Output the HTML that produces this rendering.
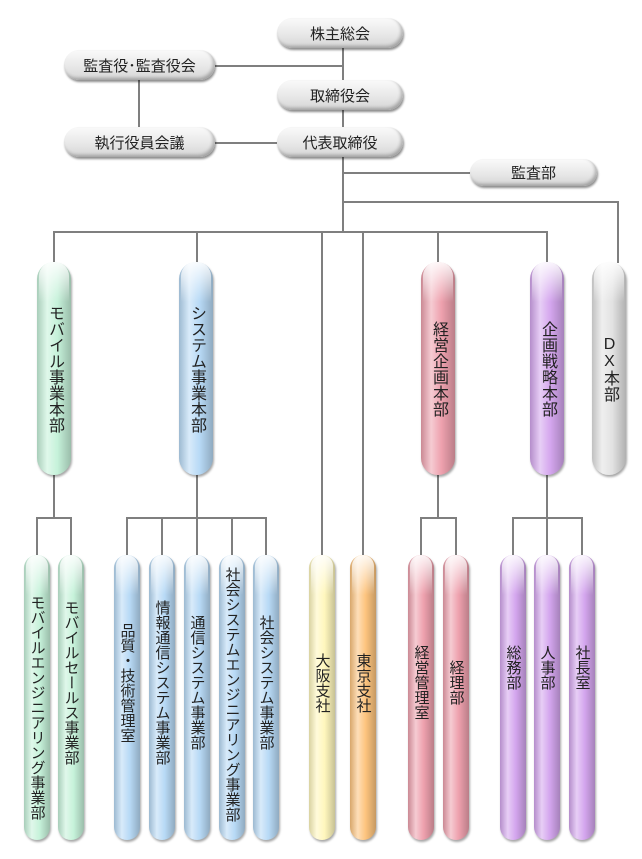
<!DOCTYPE html>
<html><head><meta charset="utf-8"><style>
body{margin:0;width:642px;height:859px;background:#fff;position:relative;overflow:hidden;font-family:"Liberation Sans","Noto Sans CJK JP",sans-serif;color:#222}
.l{position:absolute;background:#7f7f7f}
.b{position:absolute;height:30px;border-radius:15px;background:linear-gradient(#fafafa,#e6e6e6 60%,#d4d4d4);box-shadow:1px 2px 2px rgba(0,0,0,.45), inset -2px -2px 3px rgba(0,0,0,.25);display:flex;align-items:center;justify-content:center;font-size:15px}
.p{position:absolute;border-radius:14px;display:flex;justify-content:center;align-items:center;writing-mode:vertical-rl;text-orientation:upright;font-size:15px;line-height:1;box-shadow:1px 2px 2px rgba(0,0,0,.35)}
.p::before{content:"";position:absolute;left:0;top:0;right:0;bottom:0;border-radius:inherit;background:linear-gradient(90deg,rgba(0,0,0,.15),rgba(255,255,255,.45) 30%,rgba(255,255,255,0) 60%,rgba(0,0,0,.22));}
.p::after{content:"";position:absolute;left:2px;right:2px;top:0;height:40px;border-radius:14px 14px 0 0;background:linear-gradient(rgba(255,255,255,.9),rgba(255,255,255,0))}
.p span{position:relative;z-index:1}
.t{top:262px;height:213px;width:34px;border-radius:17px;font-size:16px}
.s{top:555px;height:285px;width:26px;padding-bottom:30px;box-sizing:border-box}
.g{background:#c6f2da}.bl{background:#b8daf6}.y{background:#fff7bd}.o{background:#fdc47e}.pk{background:#eea1ae}.pu{background:#d4a6ee}.gr{background:#e2e2e2}
</style></head><body>
<div class="l" style="left:342px;top:48px;width:2px;height:80px"></div>
<div class="l" style="left:215px;top:65px;width:128px;height:2px"></div>
<div class="l" style="left:138px;top:80px;width:2px;height:48px"></div>
<div class="l" style="left:215px;top:142px;width:62px;height:2px"></div>
<div class="l" style="left:342px;top:157px;width:2px;height:76px"></div>
<div class="l" style="left:343px;top:172px;width:127px;height:2px"></div>
<div class="l" style="left:343px;top:201px;width:275px;height:2px"></div>
<div class="l" style="left:617px;top:201px;width:2px;height:62px"></div>
<div class="l" style="left:53px;top:231px;width:495px;height:2px"></div>
<div class="l" style="left:53px;top:231px;width:2px;height:32px"></div>
<div class="l" style="left:196px;top:231px;width:2px;height:32px"></div>
<div class="l" style="left:321px;top:231px;width:2px;height:325px"></div>
<div class="l" style="left:362px;top:231px;width:2px;height:325px"></div>
<div class="l" style="left:437px;top:231px;width:2px;height:32px"></div>
<div class="l" style="left:546px;top:231px;width:2px;height:32px"></div>
<div class="l" style="left:53px;top:475px;width:2px;height:43px"></div>
<div class="l" style="left:36px;top:517px;width:36px;height:2px"></div>
<div class="l" style="left:36px;top:517px;width:2px;height:39px"></div>
<div class="l" style="left:70px;top:517px;width:2px;height:39px"></div>
<div class="l" style="left:196px;top:475px;width:2px;height:43px"></div>
<div class="l" style="left:126px;top:517px;width:141px;height:2px"></div>
<div class="l" style="left:126px;top:517px;width:2px;height:39px"></div>
<div class="l" style="left:161px;top:517px;width:2px;height:39px"></div>
<div class="l" style="left:196px;top:517px;width:2px;height:39px"></div>
<div class="l" style="left:231px;top:517px;width:2px;height:39px"></div>
<div class="l" style="left:265px;top:517px;width:2px;height:39px"></div>
<div class="l" style="left:437px;top:475px;width:2px;height:43px"></div>
<div class="l" style="left:420px;top:517px;width:37px;height:2px"></div>
<div class="l" style="left:420px;top:517px;width:2px;height:39px"></div>
<div class="l" style="left:455px;top:517px;width:2px;height:39px"></div>
<div class="l" style="left:546px;top:475px;width:2px;height:43px"></div>
<div class="l" style="left:512px;top:517px;width:71px;height:2px"></div>
<div class="l" style="left:512px;top:517px;width:2px;height:39px"></div>
<div class="l" style="left:546px;top:517px;width:2px;height:39px"></div>
<div class="l" style="left:581px;top:517px;width:2px;height:39px"></div>
<div class="b" style="left:277px;top:18px;width:126px">株主総会</div>
<div class="b" style="left:64px;top:50px;width:151px">監査役･監査役会</div>
<div class="b" style="left:277px;top:80px;width:126px">取締役会</div>
<div class="b" style="left:64px;top:127px;width:151px">執行役員会議</div>
<div class="b" style="left:277px;top:127px;width:126px">代表取締役</div>
<div class="b" style="left:470px;top:159px;width:127px;height:27px">監査部</div>
<div class="p t g" style="left:37px"><span>モバイル事業本部</span></div>
<div class="p t bl" style="left:179px"><span>システム事業本部</span></div>
<div class="p t pk" style="left:421px"><span>経営企画本部</span></div>
<div class="p t pu" style="left:530px"><span>企画戦略本部</span></div>
<div class="p t gr" style="left:592px"><span>DX本部</span></div>
<div class="p s g" style="left:24px;justify-content:flex-end;padding-bottom:20px"><span>モバイルエンジニアリング事業部</span></div>
<div class="p s g" style="left:58px"><span>モバイルセールス事業部</span></div>
<div class="p s bl" style="left:114px"><span>品質・技術管理室</span></div>
<div class="p s bl" style="left:149px"><span>情報通信システム事業部</span></div>
<div class="p s bl" style="left:184px"><span>通信システム事業部</span></div>
<div class="p s bl" style="left:219px;padding-bottom:0;justify-content:flex-start;padding-top:12px"><span>社会システムエンジニアリング事業部</span></div>
<div class="p s bl" style="left:253px"><span>社会システム事業部</span></div>
<div class="p s y" style="left:309px"><span>大阪支社</span></div>
<div class="p s o" style="left:350px"><span>東京支社</span></div>
<div class="p s pk" style="left:408px"><span>経営管理室</span></div>
<div class="p s pk" style="left:443px"><span>経理部</span></div>
<div class="p s pu" style="left:500px;padding-bottom:60px"><span>総務部</span></div>
<div class="p s pu" style="left:534px;padding-bottom:60px"><span>人事部</span></div>
<div class="p s pu" style="left:569px;padding-bottom:60px"><span>社長室</span></div>
</body></html>
